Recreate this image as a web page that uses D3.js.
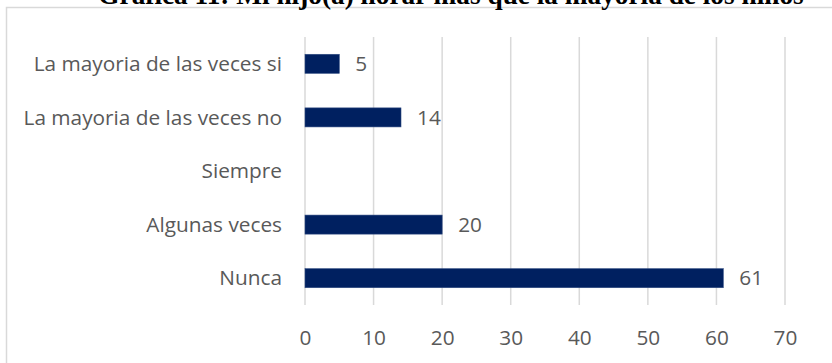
<!DOCTYPE html>
<html>
<head>
<meta charset="utf-8">
<script src="https://cdn.jsdelivr.net/npm/d3@7"></script>
<style>
  html, body { margin: 0; padding: 0; background: #fff; }
  svg { display: block; }
</style>
</head>
<body>
<svg id="chart" width="832" height="363"></svg>
<script>
const title = "Gráfica 11: Mi hijo(a) llorar más que la mayoría de los niños";
const categories = ["La mayoria de las veces si", "La mayoria de las veces no", "Siempre", "Algunas veces", "Nunca"];
const values = [5, 14, null, 20, 61];
const xTicks = [0, 10, 20, 30, 40, 50, 60, 70];

const svg = d3.select("#chart");
const W = 832, H = 363;
const margin = { left: 305, right: 47, top: 37, bottom: 58 };
const labelFont = "'Open Sans', 'Liberation Sans', sans-serif";
const labelSize = 20.8;
const textColor = "#595959";

// chart frame
svg.append("rect")
  .attr("x", 6.5).attr("y", 7.5)
  .attr("width", W + 10).attr("height", H + 10)
  .attr("fill", "#fff").attr("stroke", "#d9d9d9").attr("stroke-width", 1.5);

// title
svg.append("text")
  .attr("x", 451).attr("y", 4)
  .attr("text-anchor", "middle")
  .attr("font-family", "'Liberation Serif', 'Times New Roman', serif")
  .attr("font-weight", "bold")
  .attr("font-size", 27.3)
  .attr("fill", "#000")
  .text(title);

const x = d3.scaleLinear().domain([0, 70]).range([margin.left, W - margin.right]);
const y = d3.scaleBand().domain(categories).range([margin.top, H - margin.bottom]).paddingInner(0.645).paddingOuter(0.3225);

// vertical gridlines
svg.append("g").selectAll("line").data(xTicks).join("line")
  .attr("x1", d => x(d)).attr("x2", d => x(d))
  .attr("y1", margin.top).attr("y2", H - margin.bottom)
  .attr("stroke", "#d9d9d9").attr("stroke-width", 1.5);

// x axis tick labels
const xAxis = d3.axisBottom(x).tickValues(xTicks).tickSize(0).tickPadding(0);
const gx = svg.append("g").attr("transform", `translate(0,${H - margin.bottom})`).call(xAxis);
gx.select(".domain").remove();
gx.selectAll("text")
  .attr("y", 40).attr("dy", null)
  .attr("font-family", labelFont).attr("font-size", labelSize).attr("fill", textColor);

// category labels
const yAxis = d3.axisLeft(y).tickSize(0).tickPadding(0);
const gy = svg.append("g").attr("transform", `translate(${margin.left - 23},0)`).call(yAxis);
gy.select(".domain").remove();
gy.selectAll("text")
  .attr("dy", "0.35em")
  .attr("font-family", labelFont).attr("font-size", labelSize).attr("fill", textColor);

const data = categories.map((c, i) => ({ c, v: values[i] })).filter(d => d.v != null);

// bars
svg.append("g").selectAll("rect").data(data).join("rect")
  .attr("x", x(0))
  .attr("y", d => y(d.c))
  .attr("width", d => x(d.v) - x(0))
  .attr("height", y.bandwidth())
  .attr("fill", "#002060")
  .attr("stroke", "#2e4a80").attr("stroke-width", 0.6);

// value labels
svg.append("g").selectAll("text").data(data).join("text")
  .attr("x", d => x(d.v) + 16)
  .attr("y", d => y(d.c) + y.bandwidth() / 2)
  .attr("dy", "0.35em")
  .attr("font-family", labelFont).attr("font-size", labelSize).attr("fill", textColor)
  .text(d => d.v);
</script>
</body>
</html>
